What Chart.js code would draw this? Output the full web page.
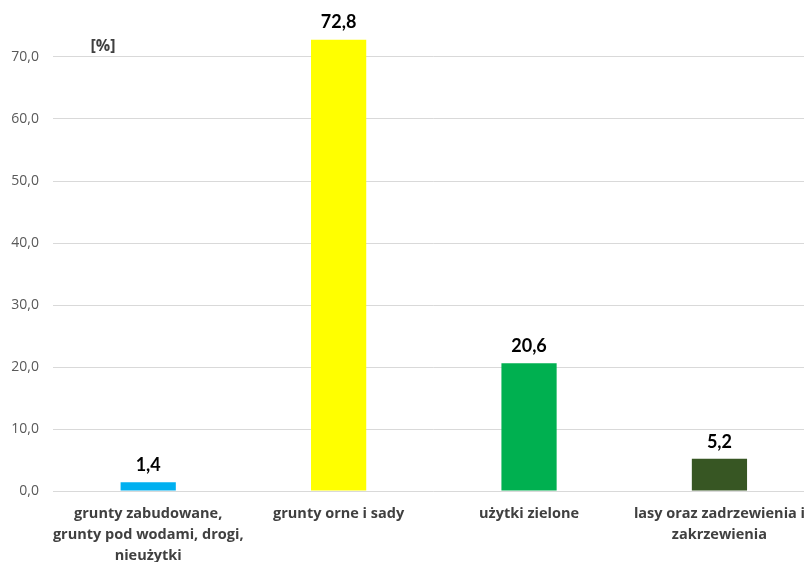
<!DOCTYPE html>
<html>
<head>
<meta charset="utf-8">
<script src="https://cdn.jsdelivr.net/npm/chart.js@4"></script>
<style>
  html, body { margin: 0; padding: 0; background: #fff; overflow: hidden; }
  #wrap { width: 804px; height: 562px; overflow: hidden; }
</style>
</head>
<body>
<div id="wrap"><canvas id="myChart" width="817" height="562"></canvas></div>
<script>
// data
var categories = [
    ['grunty zabudowane,', 'grunty pod wodami, drogi,', 'nieużytki'],
    'grunty orne i sady',
    'użytki zielone',
    ['lasy oraz zadrzewienia i', 'zakrzewienia']
];
var shares = [1.4, 72.8, 20.6, 5.2];
var barColors = ['#00b0f0', '#ffff00', '#00b050', '#375623'];
var yTicks = [0, 10, 20, 30, 40, 50, 60, 70];

var FONT = '"Open Sans", sans-serif';

function fmt(v) {
    return v.toFixed(1).replace('.', ',');
}

// value labels over bars + unit text
var labelPlugin = {
    id: 'labels',
    afterDatasetsDraw: function(chart) {
        var ctx = chart.ctx;
        var meta = chart.getDatasetMeta(0);
        ctx.save();
        ctx.fillStyle = '#000';
        ctx.font = 'bold 18px Lato, sans-serif';
        ctx.textAlign = 'center';
        ctx.textBaseline = 'bottom';
        meta.data.forEach(function(bar, i) {
            ctx.fillText(fmt(shares[i]), bar.x, bar.y - 8);
        });
        ctx.fillStyle = '#404040';
        ctx.font = 'bold 16px ' + FONT;
        ctx.fillText('[%]', 103, 54);
        ctx.restore();
    }
};

var ctx = document.getElementById('myChart').getContext('2d');
var chart = new Chart(ctx, {
    type: 'bar',
    data: {
        labels: categories,
        datasets: [{
            data: shares,
            backgroundColor: barColors,
            categoryPercentage: 1,
            barPercentage: 0.29
        }]
    },
    options: {
        responsive: false,
        animation: false,
        layout: {
            padding: { left: 0, right: 0, top: 26, bottom: 0 }
        },
        plugins: {
            legend: { display: false },
            tooltip: { enabled: false }
        },
        scales: {
            x: {
                grid: { display: false, drawTicks: false },
                border: { display: false },
                ticks: {
                    color: '#404040',
                    font: { family: FONT, size: 14.5, weight: 'bold', lineHeight: 1.45 },
                    padding: 12,
                    maxRotation: 0,
                    autoSkip: false
                },
                afterFit: function(scale) { scale.height = 71; }
            },
            y: {
                min: 0,
                max: 75,
                grid: { color: '#d9d9d9', lineWidth: 1, drawTicks: false },
                border: { display: false },
                afterBuildTicks: function(scale) {
                    scale.ticks = yTicks.map(function(v) { return { value: v }; });
                },
                ticks: {
                    color: '#595959',
                    font: { family: FONT, size: 14 },
                    padding: 14,
                    callback: function(v) { return fmt(v); }
                },
                afterFit: function(scale) { scale.width = 53; }
            }
        }
    },
    plugins: [labelPlugin]
});
</script>
</body>
</html>
